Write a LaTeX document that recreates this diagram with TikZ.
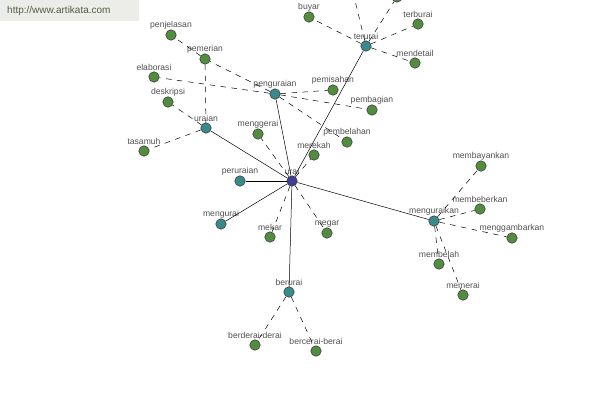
\documentclass[tikz,border=0pt]{standalone}
\usepackage{fontspec}
\setmainfont{Liberation Sans}
\usepackage{tikz}
\usetikzlibrary{positioning, calc}
\definecolor{kataHijau}{RGB}{82,140,64}
\definecolor{kataToska}{RGB}{58,138,140}
\definecolor{kataBiru}{RGB}{62,62,150}
\definecolor{kataLabel}{RGB}{80,80,80}
\definecolor{kataKotak}{RGB}{236,236,232}
\definecolor{kataLink}{RGB}{80,96,70}
\tikzset{
    kata/.style={draw=black!80, circle, line width=0.5pt, minimum size=10.5pt, inner sep=0pt,
        label={[font=\fontsize{8.6}{9}\selectfont, text=kataLabel, inner sep=0.5pt]above:#1}},
    kataakar/.style={kata=#1, fill=kataBiru},
    katasub/.style={kata=#1, fill=kataToska},
    katadaun/.style={kata=#1, fill=kataHijau},
    garis/.style={line width=0.5pt, black},
    putus/.style={line width=0.5pt, black, dash pattern=on 5.5pt off 5.5pt},
}

\begin{document}
\begin{tikzpicture}[x=1pt, y=-1pt]
        \useasboundingbox (0,0) rectangle (600,400);
        % Penanda situs
        \node[fill=kataKotak, minimum width=139pt, minimum height=21pt, inner sep=0pt, anchor=north west] (situs) at (0,0) {};
        \node[text=kataLink, font=\fontsize{10}{11}\selectfont, anchor=west, inner sep=0pt] (link) at (7,10.5) {http://www.artikata.com};
        % Kata akar
        \node[kataakar=urai] (urai) at (292,181) {};
        % Kata turunan (cabang utama)
        \node[katasub=penguraian]  (pgr) at (275,94)  {};
        \node[katasub=terurai]     (ter) at (366,46)  {};
        \node[katasub=uraian]      (ura) at (206,128) {};
        \node[katasub=peruraian]   (per) at (240,181) {};
        \node[katasub=mengurai]    (mgu) at (221,224) {};
        \node[katasub=berurai]     (ber) at (289,292) {};
        \node[katasub=menguraikan] (mgk) at (434,221) {};
        % Sinonim
        \node[katadaun=penjelasan]     (pnj) at (171,35)  {};
        \node[katadaun=pemerian]       (pmr) at (205,59)  {};
        \node[katadaun=elaborasi]      (elb) at (154,77)  {};
        \node[katadaun=deskripsi]      (dsk) at (168,102) {};
        \node[katadaun=tasamuh]        (tsm) at (144,151) {};
        \node[katadaun=menggerai]      (mgg) at (258,134) {};
        \node[katadaun=merekah]        (mrk) at (314,155) {};
        \node[katadaun=pembelahan]     (pbl) at (347,142) {};
        \node[katadaun=pemisahan]      (pms) at (333,90)  {};
        \node[katadaun=pembagian]      (pbg) at (372,110) {};
        \node[katadaun=buyar]          (buy) at (309,17)  {};
        \node[katadaun=terburai]       (tbr) at (418,24)  {};
        \node[katadaun=mendetail]      (mdt) at (415,63)  {};
        \node[katadaun]                (ats) at (397,-3)  {};
        \coordinate                    (atk) at (352,-12);
        \node[katadaun=mekar]          (mkr) at (270,237) {};
        \node[katadaun=megar]          (mgr) at (327,233) {};
        \node[katadaun=membayankan]    (mby) at (481,166) {};
        \node[katadaun=membeberkan]    (mbb) at (480,209) {};
        \node[katadaun=menggambarkan]  (mgb) at (512,238) {};
        \node[katadaun=membelah]       (mbl) at (439,264) {};
        \node[katadaun=memerai]        (mmr) at (463,295) {};
        \node[katadaun=berderai-derai] (bdd) at (255,345) {};
        \node[katadaun=bercerai-berai] (bcb) at (316,351) {};
        % Hubungan
        \draw[garis] (urai) -- (pgr); \draw[garis] (urai) -- (ter); \draw[garis] (urai) -- (ura);
        \draw[garis] (urai) -- (per); \draw[garis] (urai) -- (mgu); \draw[garis] (urai) -- (ber);
        \draw[garis] (urai) -- (mgk);
        \draw[putus] (urai) -- (mgg); \draw[putus] (urai) -- (mrk); \draw[putus] (urai) -- (mkr); \draw[putus] (urai) -- (mgr);
        \draw[putus] (pgr) -- (pmr); \draw[putus] (pgr) -- (elb); \draw[putus] (pgr) -- (pms);
        \draw[putus] (pgr) -- (pbg); \draw[putus] (pgr) -- (pbl);
        \draw[putus] (pmr) -- (pnj); \draw[putus] (pmr) -- (ura);
        \draw[putus] (ura) -- (dsk); \draw[putus] (ura) -- (tsm);
        \draw[putus] (ter) -- (buy); \draw[putus] (ter) -- (tbr); \draw[putus] (ter) -- (mdt);
        \draw[putus] (ter) -- (ats); \draw[putus] (ter) -- (atk);
        \draw[putus] (mgk) -- (mby); \draw[putus] (mgk) -- (mbb); \draw[putus] (mgk) -- (mgb);
        \draw[putus] (mgk) -- (mbl); \draw[putus] (mgk) -- (mmr);
        \draw[putus] (ber) -- (bdd); \draw[putus] (ber) -- (bcb);
    \end{tikzpicture}
\end{document}
